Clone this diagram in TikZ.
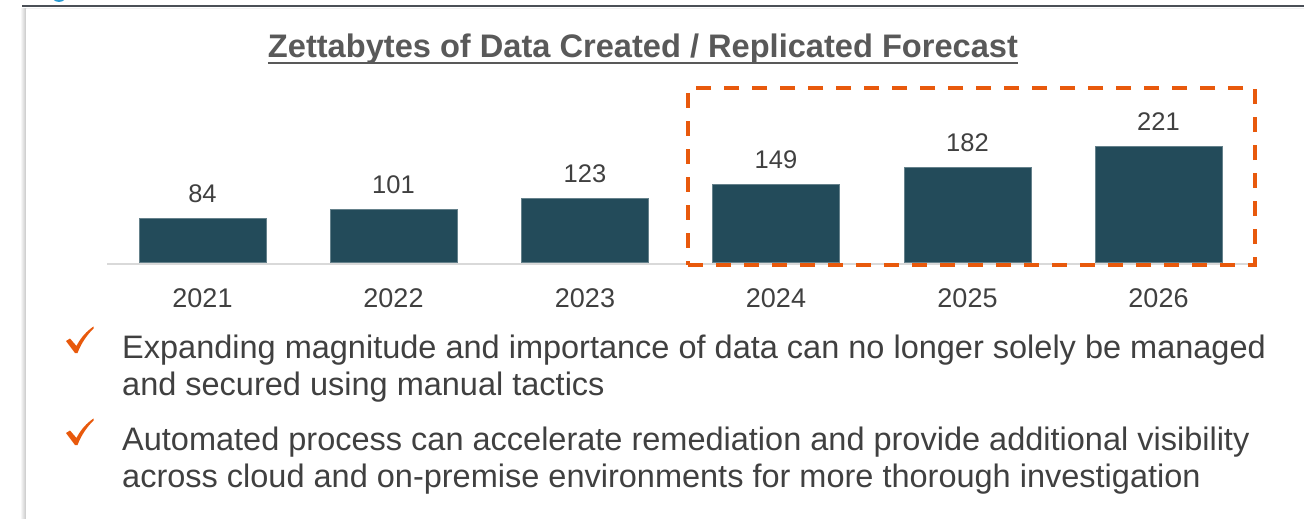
\documentclass[tikz,border=0pt]{standalone}
\usepackage{fontspec}
\setmainfont{Liberation Sans}
\usepackage{tikz}
\usetikzlibrary{positioning}

\definecolor{barteal}{HTML}{234B5A}
\definecolor{txtgray}{HTML}{404040}
\definecolor{titlegray}{HTML}{595959}
\definecolor{accent}{HTML}{E8590C}
\definecolor{topline}{HTML}{4A4F56}
\definecolor{dotblue}{HTML}{2A9BD3}

\begin{document}
\begin{tikzpicture}[
    x=1pt, y=-1pt,
    bar/.style = {fill=barteal, draw=barteal!70!white, line width=0.6pt},
    value/.style = {anchor=base, text=txtgray, font=\fontsize{25.5}{30}\selectfont},
    year/.style = {anchor=base, text=txtgray, font=\fontsize{27}{32}\selectfont},
    bullet/.style = {anchor=base west, text=txtgray, font=\fontsize{32.5}{38}\selectfont, inner sep=0pt},
    tick/.style = {fill=accent, draw=none}
]
    \useasboundingbox (0,0) rectangle (1304,519);
    \begin{scope}
    \clip (0,0) rectangle (1304,519);
    % slide header rule and the dot above it
    \fill[dotblue] (59,-6) circle (8);
    \fill[black!6] (22,8) rectangle (1304,10);
    \draw[topline, line width=2pt] (22,6.5) -- (1304,6.5);
    % panel shadow on the left
    \shade[left color=white, right color=black!22] (20,9) rectangle (26,519);
    \fill[white] (26,9) rectangle (1304,519);
    \end{scope}

    % title
    \node[anchor=base, inner sep=0pt, text=titlegray, font=\bfseries\fontsize{32.6}{38}\selectfont]
        (title) at (643,58) {Zettabytes of Data Created / Replicated Forecast};
    \draw[titlegray, line width=2pt] ([yshift=-5.5pt]title.base west) -- ([yshift=-5.5pt]title.base east);

    % axis line
    \coordinate (axisL) at (107,263.5);
    \coordinate (axisR) at (1256,263.5);
    \draw[black!15, line width=2pt] (axisL) -- (axisR);

    % bars: year / value / centre
    \foreach \yr/\val/\cx in {2021/84/202.5, 2022/101/393.5, 2023/123/585,
                              2024/149/776, 2025/182/967.5, 2026/221/1158.5} {
        \pgfmathsetmacro{\htop}{263-0.5249*\val}
        \node[bar, anchor=south, minimum width=127pt, minimum height={0.5249*\val*1pt},
              inner sep=0pt] (bar-\yr) at (\cx,263) {};
        \node[value] (val-\yr) at (\cx,\htop-16) {\val};
        \node[year] (yr-\yr) at (\cx,307) {\yr};
    }

    % highlighted forecast years
    \node[draw=accent, line width=3.2pt, dash pattern=on 15pt off 13pt,
          inner sep=0pt, minimum width=567pt, minimum height=177pt]
        (forecast) at (971.5,176.5) {};

    % check marks
    \foreach \ty in {0,92} {
        \fill[tick, yshift=-\ty] (66,341) -- (70,338.5) -- (76.5,346)
            .. controls (81,337) and (87,331) .. (93.5,326.5) -- (93.5,328.5)
            .. controls (86,336) and (81,344) .. (77.5,353) -- (75,353) -- cycle;
    }

    % bullet texts
    \node[bullet] (b1a) at (122,358) {Expanding magnitude and importance of data can no longer solely be managed};
    \node[bullet] (b1b) at (122,395) {and secured using manual tactics};
    \node[bullet] (b2a) at (122,450) {Automated process can accelerate remediation and provide additional visibility};
    \node[bullet] (b2b) at (122,487) {across cloud and on-premise environments for more thorough investigation};
\end{tikzpicture}
\end{document}
